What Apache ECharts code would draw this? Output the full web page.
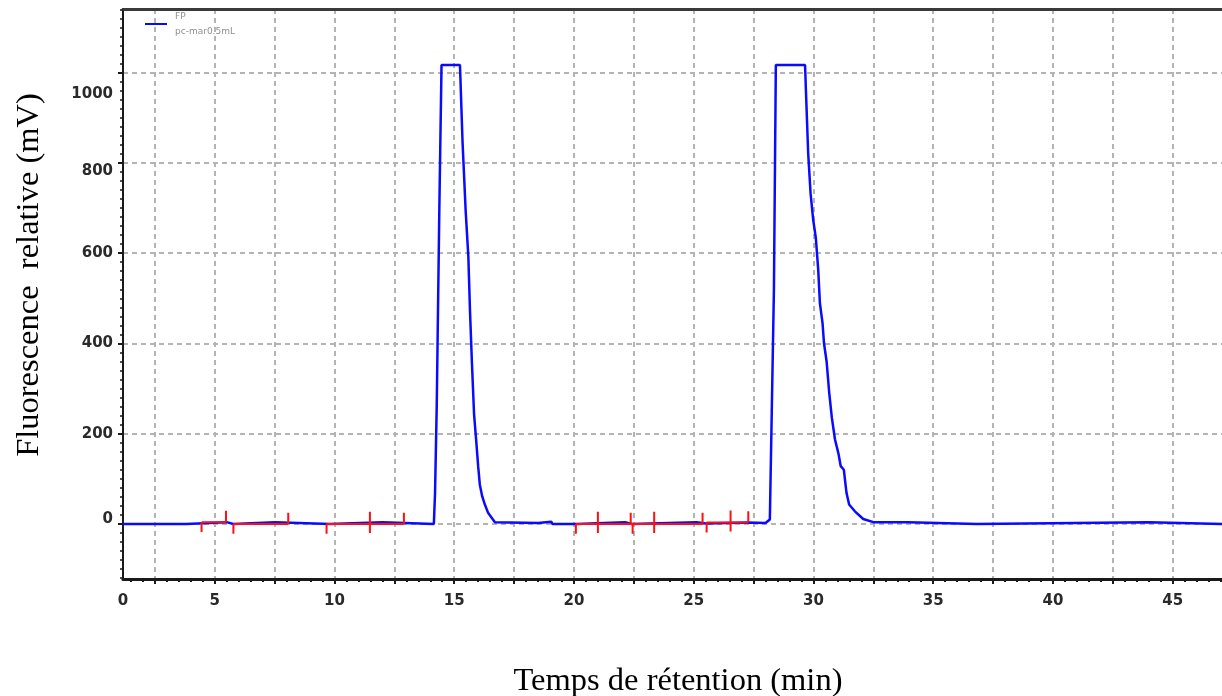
<!DOCTYPE html>
<html>
<head>
<meta charset="utf-8">
<script src="https://cdn.jsdelivr.net/npm/echarts@6/dist/echarts.min.js"></script>
<style>
  html, body { margin: 0; padding: 0; background: #fff; }
  #chart { width: 1222px; height: 696px; }
</style>
</head>
<body>
<div id="chart"></div>
<script>
// plage des axes
var xMin = 1.17, xMax = 47.06;
var yMin = -122, yMax = 1141;

// graduations
var xGridTicks = [2.5, 5, 7.5, 10, 12.5, 15, 17.5, 20, 22.5, 25, 27.5, 30, 32.5, 35, 37.5, 40, 42.5, 45];
var xLabelTicks = [xMin, 5, 10, 15, 20, 25, 30, 35, 40, 45];
var yGridTicks = [0, 200, 400, 600, 800, 1000];
var yLabelTicks = [0, 200, 400, 600, 800, 1000];

// petites graduations (0.5 min, 20 mV)
var xMinorTicks = [];
for (var t = 1.5; t < xMax; t += 0.5) xMinorTicks.push(Math.round(t * 10) / 10);
var yMinorTicks = [];
for (var v = -120; v < yMax; v += 20) yMinorTicks.push(v);

// chromatogramme FP (temps en min, signal en mV)
var fpTime = [1.17, 3.8, 3.85, 5.5, 5.55, 5.78, 5.82, 7.52, 7.56, 9.81, 9.85, 12.01, 12.05,
  14.15, 14.2, 14.27, 14.38, 14.47, 15.24, 15.35, 15.48, 15.59, 15.66, 15.74, 15.83, 15.91,
  16.0, 16.07, 16.17, 16.28, 16.42, 16.7, 18.5, 18.55, 19.05, 19.1, 20.13, 20.17, 22.13, 22.17,
  22.42, 22.46, 25.12, 25.16, 25.5, 25.55, 27.28, 28.0, 28.18, 28.25, 28.35, 28.43,
  29.65, 29.69, 29.78, 29.88, 29.99, 30.1, 30.2, 30.27, 30.38, 30.44, 30.55, 30.66, 30.77,
  30.9, 31.04, 31.14, 31.27, 31.38, 31.49, 31.73, 32.08, 32.5, 33.95, 34.0, 36.83, 36.87,
  44.0, 44.05, 47.06];
var fpSignal = [0, 0, 4, 4, 0, 0, 4, 4, 0, 0, 4, 4, 0,
  0, 69, 260, 703, 1017, 1017, 844, 692, 593, 471, 357, 242, 190,
  128, 87, 61, 43, 24, 4, 2, 5, 5, 0, 0, 4, 4, 0,
  0, 4, 4, 1, 1, 3, 3, 2, 10, 13, 519, 1017,
  1017, 955, 822, 733, 674, 634, 563, 489, 445, 401, 360, 290, 235,
  187, 157, 128, 120, 69, 43, 28, 11, 4, 4, 0, 0, 4,
  4, 0, 0];

// lignes de base d'intégration (rouge)
var baseStart = [4.45, 5.78, 9.67, 20.08, 25.54];
var baseEnd = [5.47, 8.07, 12.9, 25.37, 27.28];
var baseLevel = [4, 0, 0, 0, 3];
// repères de début / fin de pic : d = vers le bas, u = vers le haut, b = les deux
var markTime = [4.45, 5.47, 5.78, 8.07, 9.67, 11.48, 12.9, 20.08, 21.0, 22.37, 22.45, 23.35, 25.37, 25.54, 26.54, 27.28];
var markLevel = [4, 4, 0, 0, 0, 0, 0, 0, 0, 0, 0, 0, 0, 3, 3, 3];
var markDir = ['d', 'u', 'd', 'u', 'd', 'b', 'u', 'd', 'b', 'u', 'd', 'b', 'u', 'd', 'b', 'u'];

var fpData = fpTime.map(function (x, i) { return [x, fpSignal[i]]; });

var redData = [];
baseStart.forEach(function (s, i) {
  redData.push([s, baseLevel[i]], [baseEnd[i], baseLevel[i]], [baseEnd[i], '-']);
});
markTime.forEach(function (x, i) {
  var l = markLevel[i];
  if (markDir[i] === 'd') redData.push([x, l], [x, l - 22]);
  else if (markDir[i] === 'u') redData.push([x, l], [x, l + 25]);
  else redData.push([x, l - 20], [x, l + 27]);
  redData.push([x, '-']);
});

// le logiciel d'origine décale un peu certaines étiquettes de l'axe Y
var labelPad = {
  1000: [42, 0, 0, 0],
  800: [16, 0, 0, 0],
  0: [0, 0, 10, 0]
};
var richY = {};
Object.keys(labelPad).forEach(function (k) { richY['v' + k] = { padding: labelPad[k] }; });

var labelStyle = { fontFamily: 'DejaVu Sans', fontSize: 15, fontWeight: 'bold', color: '#2a2a2a' };
var gridLine = { show: true, lineStyle: { color: '#b4b4b4', width: 2, type: [5, 4] } };

var chart = echarts.init(document.getElementById('chart'));
chart.setOption({
  animation: false,
  backgroundColor: '#ffffff',
  grid: { left: 123, right: 0, top: 9, bottom: 117, outerBoundsMode: 'none', containLabel: false },
  legend: {
    left: 145, top: 9, padding: 0,
    data: [{ name: 'FP', icon: 'rect' }],
    itemWidth: 22, itemHeight: 2,
    formatter: function () { return 'FP\npc-mar0.5mL'; },
    textStyle: { fontFamily: 'DejaVu Sans', fontSize: 9, lineHeight: 15, color: '#8f8f8f', padding: [0, 0, 0, 3] }
  },
  xAxis: [{
    type: 'value', min: xMin, max: xMax, position: 'bottom',
    name: 'Temps de rétention (min)', nameLocation: 'middle', nameGap: 86,
    nameTextStyle: { fontFamily: 'Liberation Serif', fontSize: 32.5, color: '#000', padding: [0, 0, 0, 11] },
    axisLine: { show: true, onZero: false, lineStyle: { color: '#1a1a1a', width: 3 } },
    axisTick: { show: true, length: 5, customValues: xGridTicks, lineStyle: { color: '#1a1a1a', width: 2 } },
    axisLabel: {
      customValues: xLabelTicks, margin: 15, showMinLabel: true,
      formatter: function (val) { return Math.abs(val - xMin) < 1e-6 ? '0' : String(val); },
      fontFamily: labelStyle.fontFamily, fontSize: labelStyle.fontSize, fontWeight: labelStyle.fontWeight, color: labelStyle.color
    },
    splitLine: gridLine
  }, {
    type: 'value', min: xMin, max: xMax, position: 'top',
    axisLine: { show: true, onZero: false, lineStyle: { color: '#3a3a3a', width: 3 } },
    axisTick: { show: false }, axisLabel: { show: false }, splitLine: { show: false }
  }, {
    type: 'value', min: xMin, max: xMax, position: 'bottom',
    axisLine: { show: false, onZero: false },
    axisTick: { show: true, length: 3, customValues: xMinorTicks, lineStyle: { color: '#1a1a1a', width: 2 } },
    axisLabel: { show: false }, splitLine: { show: false }
  }],
  yAxis: [{
    type: 'value', min: yMin, max: yMax, position: 'left',
    name: 'Fluorescence  relative (mV)', nameLocation: 'middle', nameGap: 77, nameRotate: 90,
    nameTextStyle: { fontFamily: 'Liberation Serif', fontSize: 32.5, color: '#000', padding: [0, 0, 0, 38] },
    axisLine: { show: true, onZero: false, lineStyle: { color: '#1a1a1a', width: 2 } },
    axisTick: { show: true, length: 5, customValues: yGridTicks, lineStyle: { color: '#1a1a1a', width: 2 } },
    axisLabel: {
      customValues: yLabelTicks, margin: 10,
      formatter: function (val) {
        return labelPad[val] ? '{v' + val + '|' + val + '}' : String(val);
      },
      rich: richY,
      fontFamily: labelStyle.fontFamily, fontSize: labelStyle.fontSize, fontWeight: labelStyle.fontWeight, color: labelStyle.color
    },
    splitLine: gridLine
  }, {
    type: 'value', min: yMin, max: yMax, position: 'left',
    axisLine: { show: false, onZero: false },
    axisTick: { show: true, length: 3, customValues: yMinorTicks, lineStyle: { color: '#1a1a1a', width: 1.5 } },
    axisLabel: { show: false }, splitLine: { show: false }
  }],
  series: [{
    name: 'FP', type: 'line', data: fpData,
    xAxisIndex: 0, yAxisIndex: 0,
    showSymbol: false, symbol: 'none', silent: true,
    itemStyle: { color: '#0a0aff' },
    lineStyle: { color: '#0a0aff', width: 2.5 },
    z: 3
  }, {
    name: 'intégration', type: 'line', data: redData,
    xAxisIndex: 0, yAxisIndex: 0,
    showSymbol: false, symbol: 'none', silent: true, connectNulls: false,
    lineStyle: { color: '#ff1010', width: 2 },
    z: 4
  }]
});
</script>
</body>
</html>
